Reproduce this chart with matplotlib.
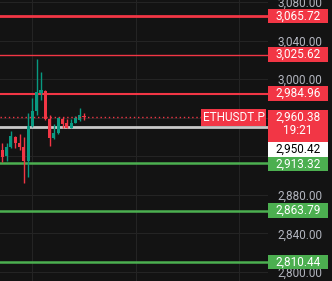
import matplotlib.pyplot as plt
from matplotlib.patches import Rectangle
import matplotlib.transforms as mtransforms

plt.rcParams['font.family'] = ['Roboto', 'DejaVu Sans']

# data
opens = [2926.6, 2920.4, 2929.7, 2940.1, 2933.9, 2929.7, 2915.2, 2951.5, 2967.1, 2985.7,
         2987.8, 2958.8, 2939.1, 2944.3, 2958.8, 2954.6, 2949.4, 2954.6, 2957.7, 2961.5]
highs = [2933.9, 2933.9, 2946.3, 2941.1, 2943.2, 2940.1, 2965.0, 2980.6, 3021.0, 3007.5,
         2988.9, 2962.9, 2953.6, 2960.9, 2960.9, 2958.8, 2958.8, 2961.9, 2970.2, 2965.0]
lows = [2914.2, 2915.2, 2928.7, 2928.7, 2926.6, 2892.4, 2898.6, 2950.5, 2962.9, 2978.5,
        2957.7, 2930.8, 2938.0, 2943.2, 2949.4, 2949.4, 2949.4, 2954.6, 2956.7, 2957.7]
closes = [2919.4, 2929.7, 2941.1, 2933.9, 2929.7, 2915.2, 2951.5, 2967.1, 2986.8, 2988.9,
          2958.8, 2939.1, 2944.3, 2959.8, 2953.6, 2949.4, 2954.6, 2959.8, 2962.9, 2960.38]

resistance = [3065.72, 3025.62, 2984.96]
support = [2913.32, 2863.79, 2810.44]
last_price = 2960.38
countdown = '19:21'
symbol = 'ETHUSDT.P'
ref_price = 2950.42
yticks = [2800, 2840, 2880, 2920, 2960, 3000, 3040, 3080]
hidden_ticks = [2920, 2960]  # sit under the price labels

bg = '#131313'
grid_c = '#242424'
red = '#f23645'
green = '#4caf50'
up_c = '#089981'
txt_c = '#b2b5be'

W, H = 332, 281
fig = plt.figure(figsize=(W / 100, H / 100), dpi=100, facecolor=bg)
ax = fig.add_axes([0, 0, 268 / W, 1], facecolor=bg)
ymin, ymax = 2790.7, 3082.2
ax.set_ylim(ymin, ymax)
ax.set_xlim(-0.535, -0.535 + 268 / 4.3)
ppu = H / (ymax - ymin)  # pixels per price unit

for s in ax.spines.values():
    s.set_visible(False)
ax.set_xticks([7, 31, 55])
ax.set_yticks(yticks)
ax.set_yticklabels(['' if v in hidden_ticks else f'{v:,.2f}' for v in yticks])
ax.yaxis.tick_right()
ax.tick_params(axis='y', length=0, pad=6.5, labelsize=8.5, labelcolor=txt_c)
ax.tick_params(axis='x', length=0, labelbottom=False)
ax.grid(True, color=grid_c, lw=0.8)
ax.set_axisbelow(True)

# candles
for i, (o, h, l, c) in enumerate(zip(opens, highs, lows, closes)):
    col = up_c if c >= o else red
    ax.vlines(i, l, h, color=col, lw=1, zorder=3)
    ax.add_patch(Rectangle((i - 0.35, min(o, c)), 0.7, max(abs(c - o), 0.8),
                           facecolor=col, edgecolor='none', zorder=3))

# level lines
for v, lw in zip(resistance, [2, 1, 1.5]):
    ax.axhline(v, color=red, lw=lw, zorder=2)
for v in support:
    ax.axhline(v, color=green, lw=1.8, zorder=2)
ax.axhline(ref_price, color='#c8c8c8', lw=2, zorder=2)
ax.axhline(last_price, xmin=0, xmax=201 / 268, color=red, lw=1, ls=(0, (1, 2)), zorder=4)

# price scale labels, stacked so they do not overlap
trans = mtransforms.blended_transform_factory(ax.transAxes, ax.transData)
x0, x1 = 1.0, 328 / 268
labels = [(v, [f'{v:,.2f}'], red, 'white') for v in resistance]
labels.append((last_price, [f'{last_price:,.2f}', countdown], red, 'white'))
labels.append((ref_price, [f'{ref_price:,.2f}'], 'white', 'black'))
labels += [(v, [f'{v:,.2f}'], green, 'white') for v in support]
labels.sort(key=lambda t: -t[0])

box_h = 14.5 / ppu
prev_bottom = None
for v, lines, fc, tc in labels:
    top = v + box_h / 2
    if prev_bottom is not None and top > prev_bottom:
        top = prev_bottom
    h = box_h if len(lines) == 1 else 32 / ppu
    ax.add_patch(Rectangle((x0, top - h), x1 - x0, h, transform=trans, facecolor=fc,
                           edgecolor='none', clip_on=False, zorder=5))
    for j, s in enumerate(lines):
        ax.text((x0 + x1) / 2, top - box_h / 2 - j * 13 / ppu, s, transform=trans,
                ha='center', va='center', color=tc, fontsize=8.5, zorder=6, clip_on=False)
    prev_bottom = top - h

# symbol label
ax.add_patch(Rectangle((201 / 268, last_price - 8.5 / ppu), 65 / 268, 17 / ppu, transform=trans,
                       facecolor=red, edgecolor='none', zorder=5))
ax.text(233.5 / 268, last_price, symbol, transform=trans, ha='center', va='center',
        color='white', fontsize=8.5, zorder=6)

fig.savefig('out.png', dpi=100, facecolor=bg)
